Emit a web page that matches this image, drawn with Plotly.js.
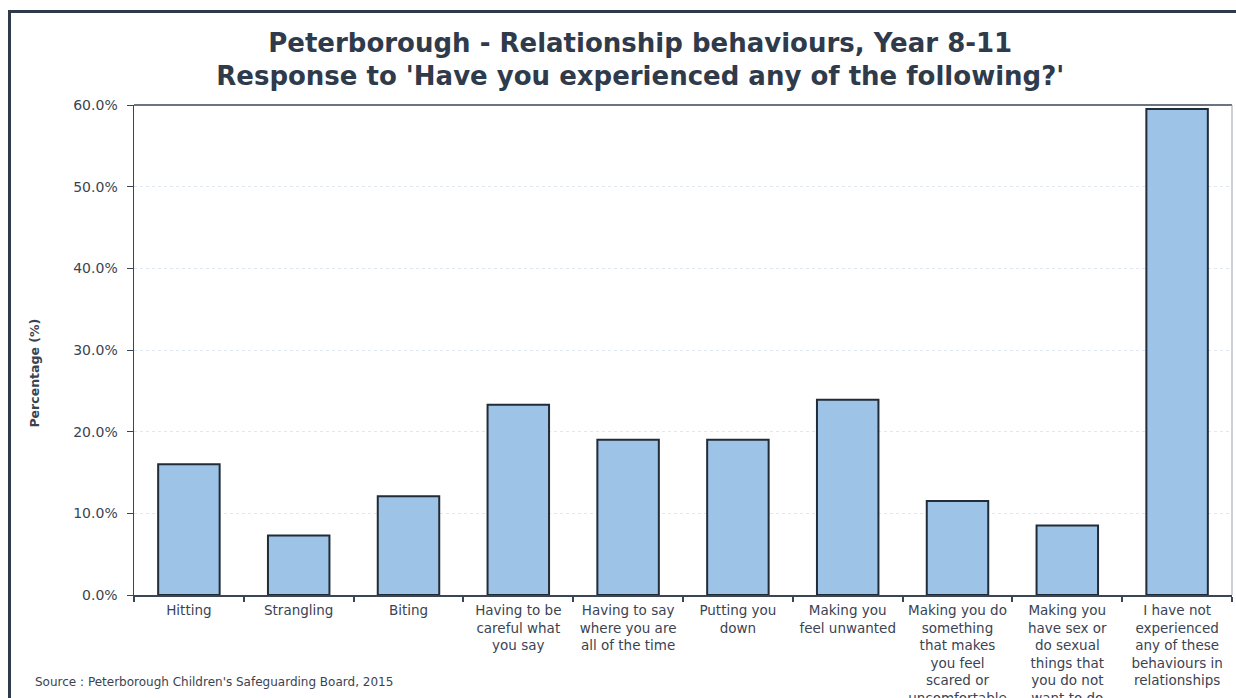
<!DOCTYPE html>
<html>
<head>
<meta charset="utf-8">
<script src="https://cdn.plot.ly/plotly-3.0.1.min.js"></script>
<style>
html,body{margin:0;padding:0;background:#fff;overflow:hidden;}
#chart{width:1236px;height:698px;}
#frame{position:absolute;left:8px;top:10px;width:1300px;height:800px;border-left:3px solid #2f3a4b;border-top:3px solid #2f3a4b;pointer-events:none;}
</style>
</head>
<body>
<div id="chart"></div>
<div id="frame"></div>
<script>
const categories = [
  "Hitting",
  "Strangling",
  "Biting",
  "Having to be<br>careful what<br>you say",
  "Having to say<br>where you are<br>all of the time",
  "Putting you<br>down",
  "Making you<br>feel unwanted",
  "Making you do<br>something<br>that makes<br>you feel<br>scared or<br>uncomfortable",
  "Making you<br>have sex or<br>do sexual<br>things that<br>you do not<br>want to do",
  "I have not<br>experienced<br>any of these<br>behaviours in<br>relationships"
];
const values = [16.0, 7.3, 12.1, 23.3, 19.0, 19.0, 23.9, 11.5, 8.5, 59.5];
const yTicks = [0, 10, 20, 30, 40, 50, 60];
const yTickLabels = ["0.0%", "10.0%", "20.0%", "30.0%", "40.0%", "50.0%", "60.0%"];

const textColor = "#3b4352";
const FONT = "DejaVu Sans, Liberation Sans, Arial, sans-serif";
const trace = {
  type: "bar",
  x: categories,
  y: values,
  marker: {color: "#9dc3e6", line: {color: "#222b38", width: 2}},
  hoverinfo: "skip"
};

const layout = {
  width: 1236, height: 698,
  margin: {l: 134, r: 4, t: 105, b: 103},
  paper_bgcolor: "#ffffff",
  plot_bgcolor: "#ffffff",
  bargap: 0.44,
  showlegend: false,
  font: {family: FONT, color: textColor, size: 13},
  title: {
    text: "<b>Peterborough - Relationship behaviours, Year 8-11<br>Response to 'Have you experienced any of the following?'</b>",
    font: {family: FONT, size: 26, color: "#2f3a4b"},
    xref: "container", x: 0.518, xanchor: "center",
    yref: "container", y: 0.926, yanchor: "middle"
  },
  xaxis: {
    type: "category",
    tickson: "boundaries",
    ticks: "outside", ticklen: 5, tickcolor: "#3a4656", tickwidth: 2,
    showline: true, linecolor: "#3a4656", linewidth: 2, mirror: false,
    showgrid: false,
    tickangle: 0,
    ticklabelstandoff: 2,
    tickfont: {family: FONT, size: 13.5, color: textColor},
    automargin: false
  },
  yaxis: {
    range: [0, 60],
    tickvals: yTicks, ticktext: yTickLabels,
    ticks: "outside", ticklen: 6, tickcolor: "#3a4656",
    ticklabelstandoff: 6,
    showline: true, linecolor: "#3a4656", linewidth: 1.5,
    showgrid: true, gridcolor: "#e0e7f0", griddash: "dot", gridwidth: 1,
    zeroline: false,
    tickfont: {family: FONT, size: 14, color: textColor},
    automargin: false
  },
  shapes: [
    {type: "line", xref: "paper", yref: "paper", x0: 0, x1: 1, y0: 1, y1: 1, line: {color: "#3a4656", width: 1.5}},
    {type: "line", xref: "paper", yref: "paper", x0: 1, x1: 1, y0: 0, y1: 1, line: {color: "#9aa2ad", width: 1}}
  ],
  annotations: [
    {text: "<b>Percentage (%)</b>", xref: "paper", yref: "paper",
     x: -0.0915, y: 0.453, xanchor: "center", yanchor: "middle", textangle: -90, showarrow: false,
     font: {family: FONT, size: 12.5, color: textColor}},
    {text: "Source : Peterborough Children's Safeguarding Board, 2015", xref: "paper", yref: "paper",
     x: -0.092, y: -0.177, xanchor: "left", yanchor: "middle", showarrow: false,
     font: {family: FONT, size: 12, color: textColor}}
  ]
};

Plotly.newPlot("chart", [trace], layout, {displayModeBar: false, staticPlot: true});
</script>
</body>
</html>
